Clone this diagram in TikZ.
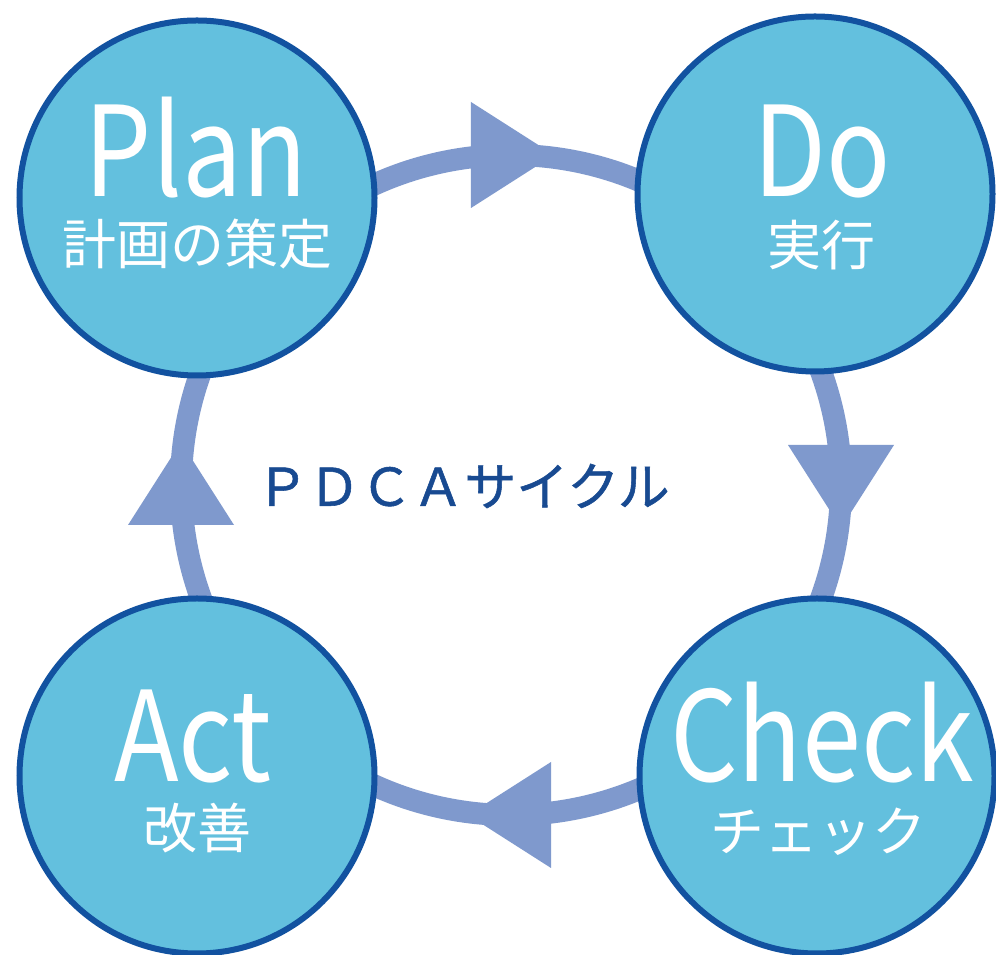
\documentclass[tikz,border=0pt]{standalone}
\usepackage{fontspec}
\newfontfamily\jpfont{Noto Sans CJK JP}
\newfontfamily\jptitle[FakeBold=1]{Noto Sans CJK JP}
\newfontfamily\latnarrow[FakeStretch=0.85]{Noto Sans CJK JP}
\usetikzlibrary{decorations.markings}
\definecolor{cfill}{RGB}{99,192,222}
\definecolor{cline}{RGB}{18,82,160}
\definecolor{ringcol}{RGB}{127,153,205}
\definecolor{titlec}{RGB}{24,74,145}
\begin{document}
\begin{tikzpicture}[x=1pt,y=1pt,
  phase/.style={circle, fill=cfill, draw=cline, line width=6pt, minimum size=355pt, inner sep=0pt},
  biglabel/.style={text=white, font=\latnarrow\fontsize{125}{125}\selectfont, anchor=base, inner sep=0pt},
  smalllabel/.style={text=white, font=\jpfont\fontsize{54}{54}\selectfont, anchor=center, inner sep=0pt},
  ringarc/.style={draw=ringcol, line width=22pt, postaction={decorate},
    decoration={markings, mark=at position 0.5 with {\fill[ringcol] (-40,-53) -- (43,0) -- (-40,53) -- cycle;}}}
]
\useasboundingbox (0,0) rectangle (996,955);
\fill[white] (0,0) rectangle (996,955);
\coordinate (rc) at (511,470);
\coordinate (nw) at ([shift={(135:330)}]rc);
\coordinate (ne) at ([shift={(45:330)}]rc);
\coordinate (se) at ([shift={(-45:330)}]rc);
\coordinate (sw) at ([shift={(-135:330)}]rc);
\draw[ringarc] (nw) arc[start angle=135, end angle=45, radius=330];
\draw[ringarc] (ne) arc[start angle=45, end angle=-45, radius=330];
\draw[ringarc] (se) arc[start angle=-45, end angle=-135, radius=330];
\draw[ringarc] (sw) arc[start angle=-135, end angle=-225, radius=330];
\node[phase] (plan) at (197,757) {};
\node[phase] (do) at (815,761) {};
\node[phase] (act) at (197,179) {};
\node[phase] (check) at (817,179) {};
\node[biglabel] (planL) at (196,758) {Plan};
\node[smalllabel] (planJ) at (197,710.5) {計画の策定};
\node[biglabel] (doL) at (822,758) {Do};
\node[smalllabel] (doJ) at (821,710) {実行};
\node[biglabel] (actL) at (193,173) {Act};
\node[smalllabel] (actJ) at (197,126.5) {改善};
\node[biglabel] (checkL) at (822,173) {Check};
\node[smalllabel] (checkJ) at (818,123) {チェック};
\node[text=titlec, font=\jptitle\fontsize{52}{52}\selectfont, inner sep=0pt] (title) at (463,469) {ＰＤＣＡサイクル};
\end{tikzpicture}
\end{document}
